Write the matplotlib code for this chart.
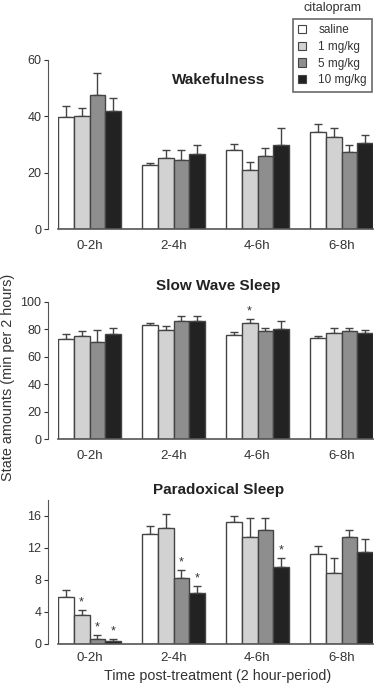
import matplotlib
matplotlib.use('Agg')
import matplotlib.pyplot as plt
from matplotlib.patches import Patch
import numpy as np

plt.rcParams['font.family'] = ['Liberation Sans', 'DejaVu Sans']

periods = ['0-2h', '2-4h', '4-6h', '6-8h']
groups = ['saline', '1 mg/kg', '5 mg/kg', '10 mg/kg']
colors = ['#ffffff', '#d2d2d2', '#8e8e8e', '#222222']

# means per group (saline, 1, 5, 10 mg/kg), one row per time period
wake_mean = [[39.7, 40.2, 47.5, 41.9],
             [22.6, 25.2, 24.6, 26.5],
             [28.1, 20.8, 25.9, 29.9],
             [34.5, 32.8, 27.2, 30.7]]
wake_sem = [[4.0, 2.6, 7.8, 4.6],
            [1.0, 2.7, 3.3, 3.3],
            [2.1, 2.9, 3.0, 6.0],
            [2.8, 3.1, 2.6, 2.5]]

sws_mean = [[73.2, 74.9, 71.0, 76.6],
            [83.0, 79.8, 86.1, 86.4],
            [75.9, 84.9, 78.6, 80.3],
            [73.5, 77.4, 78.8, 77.4]]
sws_sem = [[3.7, 3.9, 8.6, 4.7],
           [1.7, 2.4, 3.4, 3.1],
           [2.4, 2.7, 2.7, 5.6],
           [1.7, 3.9, 2.5, 2.4]]

ps_mean = [[5.9, 3.6, 0.67, 0.33],
           [13.8, 14.5, 8.3, 6.4],
           [15.25, 13.4, 14.25, 9.67],
           [11.3, 8.9, 13.4, 11.5]]
ps_sem = [[0.9, 0.7, 0.41, 0.34],
          [0.9, 1.75, 0.95, 0.9],
          [0.75, 2.35, 1.55, 1.08],
          [0.9, 1.85, 0.8, 1.6]]

# significance stars (period index, group index)
sws_stars = [(2, 1)]
ps_stars = [(0, 1), (0, 2), (0, 3), (1, 2), (1, 3), (2, 3)]

fig = plt.figure(figsize=(3.74, 6.85), dpi=100)
W, H = 374, 685


def px_axes(left, right, top, bottom):
    return fig.add_axes([left / W, 1 - bottom / H, (right - left) / W, (bottom - top) / H])


def draw_panel(ax, mean, sem, ylim, yticks, title, title_y, stars, pad=8):
    mean = np.array(mean)
    sem = np.array(sem)
    x = np.arange(len(periods))
    bw = 0.1875
    for g in range(4):
        xs = x - 1.5 * bw + g * bw
        ax.bar(xs, mean[:, g], bw, color=colors[g], edgecolor='#444444',
               linewidth=1.0, zorder=2)
        ax.errorbar(xs, mean[:, g], yerr=[np.zeros(4), sem[:, g]], fmt='none',
                    ecolor='#444444', elinewidth=1.0, capsize=3, capthick=1.0,
                    zorder=1)
    for p, g in stars:
        xs = p - 1.5 * bw + g * bw
        top = mean[p, g] + sem[p, g]
        ax.text(xs, top + (ylim[1] - ylim[0]) * 0.01, '*', ha='center',
                va='bottom', fontsize=9, color='#333333')
    ax.set_xlim(-0.375, 3.375)
    ax.set_ylim(*ylim)
    ax.set_yticks(yticks)
    ax.set_xticks(x)
    ax.set_xticklabels(periods)
    ax.tick_params(axis='x', length=0, pad=pad, labelsize=9.5, colors='#333333')
    ax.tick_params(axis='y', length=3, width=0.8, pad=2, labelsize=9,
                   colors='#333333', direction='out')
    for s in ['top', 'right']:
        ax.spines[s].set_visible(False)
    ax.spines['left'].set_position(('outward', 7))
    ax.spines['left'].set_color('#555555')
    ax.spines['bottom'].set_color('#555555')
    ax.spines['bottom'].set_linewidth(1.2)
    ax.text(0.51, title_y, title, transform=ax.transAxes, ha='center',
            va='center', fontsize=11, fontweight='bold', color='#222222')


ax1 = px_axes(58, 373, 60, 229)
draw_panel(ax1, wake_mean, wake_sem, (0, 60), [0, 20, 40, 60],
           'Wakefulness', 0.88, [])

ax2 = px_axes(58, 373, 302, 439)
draw_panel(ax2, sws_mean, sws_sem, (0, 100), [0, 20, 40, 60, 80, 100],
           'Slow Wave Sleep', 1.12, sws_stars)

ax3 = px_axes(58, 373, 500, 644)
draw_panel(ax3, ps_mean, ps_sem, (0, 18), [0, 4, 8, 12, 16],
           'Paradoxical Sleep', 1.07, ps_stars, pad=6)

fig.text(218 / W, 1 - 676 / H, 'Time post-treatment (2 hour-period)',
         ha='center', va='center', fontsize=10.3, color='#333333')

fig.text(8 / W, 1 - 377 / H, 'State amounts (min per 2 hours)', rotation=90,
         ha='center', va='center', fontsize=10.4, color='#333333')

handles = [Patch(facecolor=c, edgecolor='#444444', linewidth=0.8) for c in colors]
leg = fig.legend(handles, groups, loc='upper right',
                 bbox_to_anchor=(372 / W, 1 - 19 / H), frameon=True,
                 fancybox=False, edgecolor='#444444', fontsize=8.5,
                 handlelength=0.7, handleheight=0.7, handletextpad=1.0,
                 labelspacing=0.4, borderpad=0.45, borderaxespad=0)
leg.get_frame().set_linewidth(1.2)
for t in leg.get_texts():
    t.set_color('#333333')
fig.text(332 / W, 1 - 8 / H, 'citalopram', ha='center', va='center',
         fontsize=9, color='#333333')

fig.savefig('out.png', dpi=100)
